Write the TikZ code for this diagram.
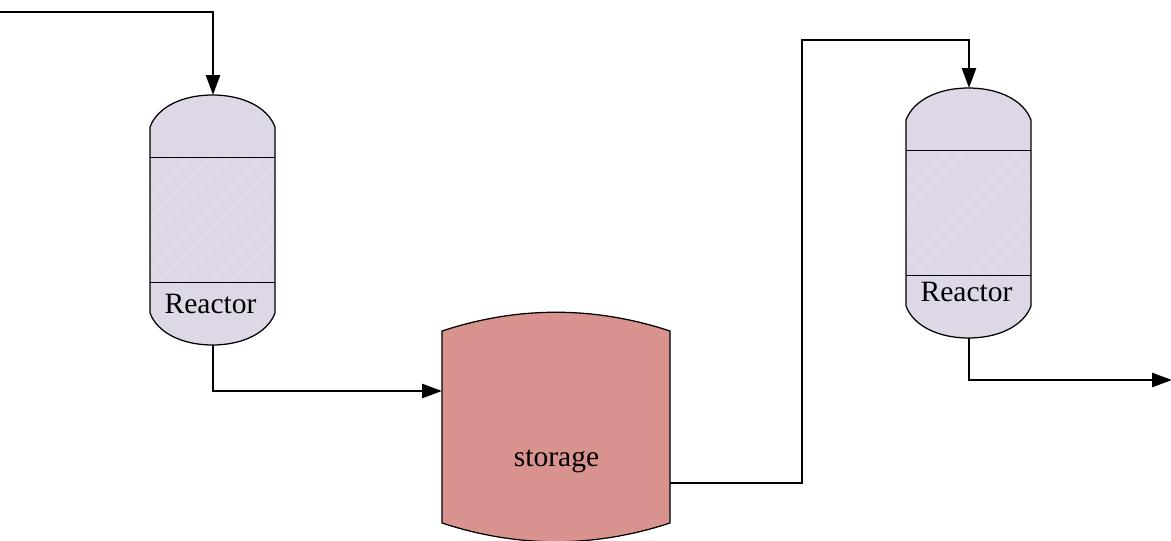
\documentclass[tikz,border=0pt]{standalone}
\usepackage{fontspec}
\setmainfont{Liberation Serif}
\usetikzlibrary{arrows.meta,calc}
\definecolor{vesselfill}{HTML}{DDD7E6}
\definecolor{hatchline}{HTML}{E1DDE9}
\definecolor{storagefill}{HTML}{D9938F}
\tikzset{
  flow/.style={draw=black,line width=2.7pt,-{Triangle[length=20pt,width=14pt]}},
  outline/.style={draw=black,line width=1.25pt},
  rule/.style={draw=black,line width=1pt},
  anchorbox/.style={minimum width=125pt,minimum height=250pt,inner sep=0pt,outer sep=0pt},
  tanklabel/.style={font=\fontsize{29.5pt}{32pt}\selectfont,text=black,inner sep=0pt},
}
% #1 name, #2 centre x, #3 top y, #4 label y
\newcommand{\reactorvessel}[4]{%
  \path[fill=vesselfill] (#2-62.5,#3+32)
     .. controls (#2-55,#3+12) and (#2-30,#3) .. (#2,#3)
     .. controls (#2+30,#3) and (#2+55,#3+12) .. (#2+62.5,#3+32)
     -- (#2+62.5,#3+218)
     .. controls (#2+55,#3+238) and (#2+30,#3+250) .. (#2,#3+250)
     .. controls (#2-30,#3+250) and (#2-55,#3+238) .. (#2-62.5,#3+218) -- cycle;
  \begin{scope}
    \clip (#2-62,#3+62) rectangle (#2+62,#3+187);
    \foreach \d in {-100,-82,...,240}
      \draw[hatchline,line width=1.6pt] (#2-62.5+\d,#3+187) -- ++(140,-140);
  \end{scope}
  \path[outline] (#2-62.5,#3+32)
     .. controls (#2-55,#3+12) and (#2-30,#3) .. (#2,#3)
     .. controls (#2+30,#3) and (#2+55,#3+12) .. (#2+62.5,#3+32)
     -- (#2+62.5,#3+218)
     .. controls (#2+55,#3+238) and (#2+30,#3+250) .. (#2,#3+250)
     .. controls (#2-30,#3+250) and (#2-55,#3+238) .. (#2-62.5,#3+218) -- cycle;
  \draw[rule] (#2-62.5,#3+62) -- (#2+62.5,#3+62) (#2-62.5,#3+187) -- (#2+62.5,#3+187);
  \node[anchorbox] (#1) at (#2+0.5,#3+125) {};
  \node[tanklabel] (#1label) at (#2-2,#4) {Reactor};
}
\begin{document}
\begin{tikzpicture}[x=1pt,y=-1pt]
\useasboundingbox (0,0) rectangle (1171,541);
\reactorvessel{reactorA}{212.5}{95}{304}
\reactorvessel{reactorB}{968.5}{88}{292}
\begin{scope}
  \clip (0,0) rectangle (1171,541);
  \path[fill=storagefill,outline] (442,331)
    .. controls (518,306) and (594,306) .. (670,331)
    -- (670,523)
    .. controls (594,548) and (518,548) .. (442,523) -- cycle;
\end{scope}
\node[minimum width=228pt,minimum height=230pt,inner sep=0pt,outer sep=0pt] (storage) at (556,427) {};
\node[tanklabel] (storagelabel) at (556.5,461) {storage};
\coordinate (feedA) at (0,12);
\coordinate (feedCorner) at (213,12);
\coordinate (storageIn) at (442,391);
\coordinate (storageOut) at (670,483);
\coordinate (riserBase) at (802,483);
\coordinate (riserTop) at (802,40);
\coordinate (productOut) at (1172,380);
\draw[flow] (feedA) -- (feedCorner) -- (feedCorner |- reactorA.north);
\draw[flow] (reactorA.south) |- (storageIn);
\draw[flow] (storageOut) -- (riserBase) -- (riserTop) -| (reactorB.north);
\draw[flow] (reactorB.south) |- (productOut);
\end{tikzpicture}
\end{document}
